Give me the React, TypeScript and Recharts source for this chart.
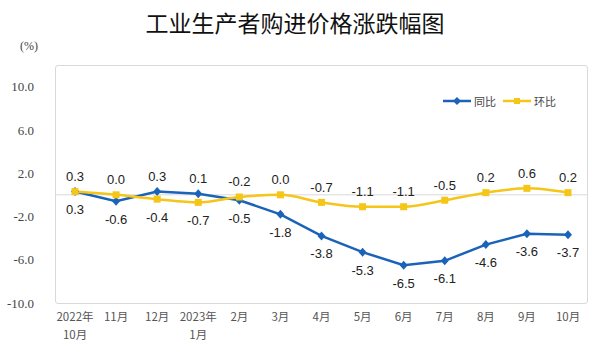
import React from "react"
import { LineChart, Line, XAxis, YAxis, ReferenceLine, LabelList } from "recharts"

const categories = ["2022年|10月", "11月", "12月", "2023年|1月", "2月", "3月", "4月", "5月", "6月", "7月", "8月", "9月", "10月"]
const yoy = [0.3, -0.6, 0.3, 0.1, -0.5, -1.8, -3.8, -5.3, -6.5, -6.1, -4.6, -3.6, -3.7]
const mom = [0.3, 0.0, -0.4, -0.7, -0.2, 0.0, -0.7, -1.1, -1.1, -0.5, 0.2, 0.6, 0.2]
// where each data label sits relative to its point
const yoyLabelSide = ["below", "below", "above", "above", "below", "below", "below", "below", "below", "below", "below", "below", "below"]
const momLabelSide = ["above", "above", "below", "below", "above", "above", "above", "above", "above", "above", "above", "above", "above"]
const yTicks = [10, 6, 2, -2, -6, -10]

const BLUE = "#1A63B8"
const YELLOW = "#F5C518"

const data = categories.map((c, i) => ({ name: c, yoy: yoy[i], mom: mom[i] }))

function Diamond(props: any) {
  const { cx, cy } = props
  if (cx == null || cy == null) return null
  return <path d={`M${cx},${cy - 4.5}L${cx + 4},${cy}L${cx},${cy + 4.5}L${cx - 4},${cy}Z`} fill={BLUE} />
}

function Square(props: any) {
  const { cx, cy } = props
  if (cx == null || cy == null) return null
  return <rect x={cx - 3.5} y={cy - 3.5} width={7} height={7} fill={YELLOW} />
}

const makeLabel = (sides: string[]) => (props: any) => {
  const { x, y, value, index } = props
  const dy = sides[index] === "above" ? -15 : 18
  return (
    <text x={x} y={y + dy} textAnchor="middle" dominantBaseline="central"
      fontFamily="Liberation Sans, Arial, sans-serif" fontSize={13} fill="#222">
      {value.toFixed(1)}
    </text>
  )
}

function XTick(props: any) {
  const { x, y, payload } = props
  const lines = String(payload.value).split("|")
  return (
    <g transform={`translate(${x},${y})`}>
      {lines.map((l, i) => (
        <text key={i} x={0} y={10 + i * 18} textAnchor="middle"
          fontFamily="Noto Sans CJK SC, sans-serif" fontSize={11.5} fill="#555">
          {l}
        </text>
      ))}
    </g>
  )
}

function LegendBox() {
  const item = (color: string, label: string, square: boolean) => (
    <span style={{ display: "inline-flex", alignItems: "center", marginRight: 7 }}>
      <svg width={28} height={10}>
        <line x1={0} y1={5} x2={28} y2={5} stroke={color} strokeWidth={2.5} />
        {square
          ? <rect x={11} y={2} width={6} height={6} fill={color} />
          : <path d="M14,1L18,5L14,9L10,5Z" fill={color} />}
      </svg>
      <span style={{ marginLeft: 3 }}>{label}</span>
    </span>
  )
  return (
    <div style={{ position: "absolute", left: 443, top: 93, fontFamily: "Noto Sans CJK SC, sans-serif",
      fontSize: 11, color: "#444", display: "flex" }}>
      {item(BLUE, "同比", false)}
      {item(YELLOW, "环比", true)}
    </div>
  )
}

export default function App() {
  return (
    <div style={{ position: "absolute", left: 0, top: 0, width: 600, height: 360, background: "#fff" }}>
      <div style={{ position: "absolute", left: 0, top: 5, width: 590, textAlign: "center",
        fontFamily: "Noto Sans CJK SC, sans-serif", fontSize: 23, color: "#111" }}>
        工业生产者购进价格涨跌幅图
      </div>
      <div style={{ position: "absolute", left: 20, top: 39, fontFamily: "Liberation Serif, serif", fontSize: 12, color: "#444" }}>
        (%)
      </div>
      <div style={{ position: "absolute", left: 55, top: 65, width: 533, height: 239,
        border: "1px solid #d9d9d9", borderRadius: 3, boxSizing: "border-box" }} />
      <div style={{ position: "absolute", left: 0, top: 0 }}>
        <LineChart width={600} height={360} data={data} margin={{ top: 65, right: 12, bottom: 0, left: 0 }}>
          <XAxis dataKey="name" interval={0} axisLine={false} tickLine={false}
            padding={{ left: 20, right: 20 }} tick={<XTick />} height={57} />
          <YAxis domain={[-10, 12]} ticks={yTicks} width={55} axisLine={false}
            tickLine={false} allowDataOverflow tickMargin={15}
            tick={{ fontFamily: "Liberation Serif, serif", fontSize: 13, fill: "#444" }}
            tickFormatter={(v: number) => v.toFixed(1)} />
          <ReferenceLine y={0} stroke="#d9d9d9" strokeWidth={1} />
          <Line dataKey="yoy" name="同比" stroke={BLUE} strokeWidth={2.5} dot={<Diamond />}
            activeDot={false} isAnimationActive={false}>
            <LabelList dataKey="yoy" content={makeLabel(yoyLabelSide)} />
          </Line>
          <Line dataKey="mom" name="环比" stroke={YELLOW} strokeWidth={2.5} dot={<Square />}
            type="monotone" activeDot={false} isAnimationActive={false}>
            <LabelList dataKey="mom" content={makeLabel(momLabelSide)} />
          </Line>
        </LineChart>
      </div>
      <LegendBox />
    </div>
  )
}
